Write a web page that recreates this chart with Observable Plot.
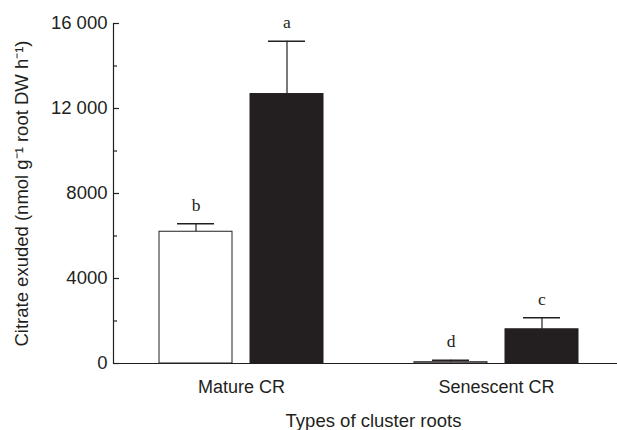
<!DOCTYPE html>
<html>
<head>
<meta charset="utf-8">
<script src="https://cdn.jsdelivr.net/npm/d3@7"></script>
<script src="https://cdn.jsdelivr.net/npm/@observablehq/plot@0.6"></script>
<style>
  html, body { margin: 0; padding: 0; background: #fff; }
  #chart svg { display: block; background: #fff; }
</style>
</head>
<body>
<div id="chart"></div>
<script>
// ---- data ----
const categories = ["Mature CR", "Senescent CR"];
const controlMeans = [6200, 60];        // white bars
const controlUpper = [6580, 150];       // mean + error
const controlLetters = ["b", "d"];
const treatedMeans = [12680, 1610];     // black bars
const treatedUpper = [15170, 2150];
const treatedLetters = ["a", "c"];

const yTicks = [0, 4000, 8000, 12000, 16000];
const yTickLabels = ["0", "4000", "8000", "12 000", "16 000"];
const yMinorTicks = [2000, 6000, 10000, 14000];

const yTitle = "Citrate exuded (nmol g\u207B\u00B9 root DW h\u207B\u00B9)";
const xTitle = "Types of cluster roots";

// ---- tables built from the arrays ----
const control = categories.map((c, i) => ({cat: c, value: controlMeans[i], upper: controlUpper[i], letter: controlLetters[i]}));
const treated = categories.map((c, i) => ({cat: c, value: treatedMeans[i], upper: treatedUpper[i], letter: treatedLetters[i]}));

const sans = "Arial, 'Liberation Sans', Helvetica, sans-serif";
const serif = "'Liberation Serif', 'Times New Roman', serif";
const ink = "#231f20";
const W = 617, H = 430, ML = 113, MR = 0, MT = 23, MB = 67;
const frameW = W - ML - MR;

const chart = Plot.plot({
  width: W,
  height: H,
  marginLeft: ML,
  marginRight: MR,
  marginTop: MT,
  marginBottom: MB,
  style: {fontFamily: sans, color: ink, background: "#fff"},
  x: {domain: categories, paddingInner: 0.358, paddingOuter: 0.1654, align: 0.544, axis: null},
  y: {domain: [0, 16000], axis: null},
  marks: [
    // bars
    Plot.barY(control, {x: "cat", y: "value", fill: "#fff", stroke: ink, strokeWidth: 1, insetRight: 91}),
    Plot.barY(treated, {x: "cat", y: "value", fill: ink, stroke: ink, strokeWidth: 1, insetLeft: 91}),
    // error bars
    Plot.ruleX(control, {x: "cat", y1: "value", y2: "upper", dx: -45.5, stroke: ink, strokeWidth: 1.2}),
    Plot.ruleX(treated, {x: "cat", y1: "value", y2: "upper", dx: 45.5, stroke: ink, strokeWidth: 1.2}),
    Plot.tickY(control, {x: "cat", y: "upper", insetLeft: 18, insetRight: 109, stroke: ink, strokeWidth: 1.5}),
    Plot.tickY(treated, {x: "cat", y: "upper", insetLeft: 109, insetRight: 18, stroke: ink, strokeWidth: 1.5}),
    // significance letters
    Plot.text(control, {x: "cat", y: "upper", text: "letter", dx: -45.5, dy: -13, lineAnchor: "bottom", fontFamily: serif, fontSize: 17.5, fill: ink}),
    Plot.text(treated, {x: "cat", y: "upper", text: "letter", dx: 45.5, dy: -13, lineAnchor: "bottom", fontFamily: serif, fontSize: 17.5, fill: ink}),
    // axis lines
    Plot.frame({anchor: "left", stroke: ink, strokeWidth: 1.2}),
    Plot.ruleY([0], {stroke: ink, strokeWidth: 1.2}),
    // inward y ticks
    Plot.tickY(yTicks, {y: d => d, insetRight: frameW - 6, stroke: ink, strokeWidth: 1.2}),
    Plot.tickY(yMinorTicks, {y: d => d, insetRight: frameW - 4, stroke: ink, strokeWidth: 1.2}),
    // y tick labels
    Plot.axisY({ticks: yTicks, tickFormat: d => yTickLabels[yTicks.indexOf(d)], tickSize: 0, tickPadding: 6, fontSize: 18.5, label: null, fill: ink}),
    // x category labels
    Plot.axisX({tickSize: 0, tickPadding: 17, fontSize: 18, label: null, fill: ink}),
    // titles
    Plot.text([xTitle], {frameAnchor: "bottom", dy: 50, dx: 8, lineAnchor: "top", fontSize: 18.5, fill: ink}),
    Plot.text([yTitle], {frameAnchor: "left", rotate: -90, dx: -91.5, textAnchor: "middle", lineAnchor: "middle", fontSize: 18.5, fill: ink})
  ]
});
document.getElementById("chart").appendChild(chart);
</script>
</body>
</html>
